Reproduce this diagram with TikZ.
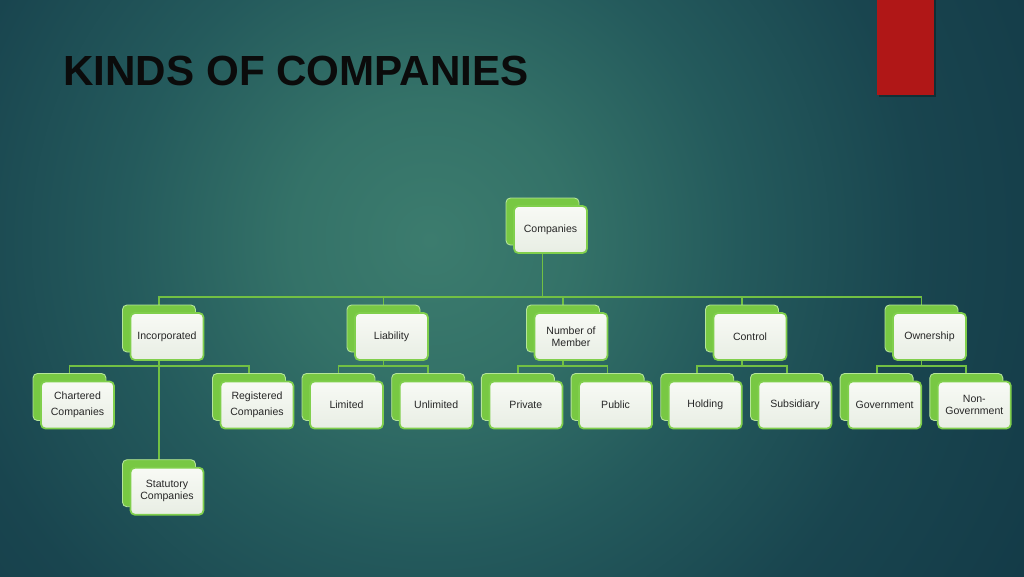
\documentclass[tikz,border=0pt]{standalone}
\usepackage{fontspec}
\setmainfont{Liberation Sans}
\usepackage{xcolor}
\usetikzlibrary{positioning, calc, shadows}

\definecolor{bgin}{HTML}{3C7C6E}
\definecolor{bgmid}{HTML}{347268}
\definecolor{bgdim}{HTML}{245A5C}
\definecolor{bgout}{HTML}{19454F}
\definecolor{bgedge}{HTML}{133A47}
\definecolor{boxgreen}{HTML}{80CF4C}
\definecolor{backgreen}{HTML}{78C843}
\definecolor{backline}{HTML}{B5E59A}
\definecolor{linkgreen}{HTML}{72C043}
\definecolor{boxtop}{HTML}{F8FAF5}
\definecolor{boxbot}{HTML}{E8EEE4}
\definecolor{redbar}{HTML}{B01717}
\definecolor{titleblack}{HTML}{0B0B0B}

\pgfdeclarelayer{backdrop}
\pgfdeclarelayer{links}
\pgfsetlayers{backdrop,links,main}
\pgfdeclareradialshading{slidebg}{\pgfpoint{0bp}{0bp}}{color(0bp)=(bgin); color(5bp)=(bgmid); color(11bp)=(bgdim); color(17.5bp)=(bgout); color(25bp)=(bgedge); color(50bp)=(bgedge)}

\begin{document}
\begin{tikzpicture}[
    x=0.02cm, y=-0.02cm,
    unit/.style={draw=boxgreen, line width=1pt, rounded corners=2.5pt, top color=boxtop, bottom color=boxbot,
        minimum width=1.46cm, minimum height=0.94cm, inner sep=1pt, align=center,
        font=\fontsize{6}{6.8}\selectfont, text=black!85,
        general shadow={shadow xshift=-0.16cm, shadow yshift=0.16cm, fill=backgreen, draw=backline, line width=0.5pt}},
    link/.style={draw=linkgreen, line width=1pt}
]
    \useasboundingbox (0,0) rectangle (1024,576);

    % slide background
    \begin{pgfonlayer}{backdrop}
        \begin{scope}
            \clip (0,0) rectangle (1024,576);
            \shade[shading=slidebg] (430,240) circle (14cm);
        \end{scope}
        \fill[black, opacity=0.3] (879,0) rectangle (936,97);
        \fill[redbar] (877,0) rectangle (934,95);
    \end{pgfonlayer}

    \node[anchor=base west, inner sep=0, font=\fontsize{24}{28}\selectfont\bfseries, text=titleblack] (title) at (63,85) {KINDS OF COMPANIES};

    % top
    \node[unit] (co) at (550.5,229.5) {Companies};

    % kinds
    \node[unit] (inc) at (167,336.5) {Incorporated};
    \node[unit] (lia) at (391.5,336.5) {Liability};
    \node[unit] (num) at (571,336.5) {Number of\\Member};
    \node[unit] (con) at (750,336.5) {Control};
    \node[unit] (own) at (929.5,336.5) {Ownership};

    % sub kinds
    \node[unit] (cha) at (77.5,405) {Chartered\\[2.5pt]Companies};
    \node[unit] (reg) at (257,405) {Registered\\[2.5pt]Companies};
    \node[unit] (lim) at (346.5,405) {Limited};
    \node[unit, right=0.299cm of lim] (unl) {Unlimited};
    \node[unit, right=0.299cm of unl] (pri) {Private};
    \node[unit, right=0.299cm of pri] (pub) {Public};
    \node[unit, right=0.299cm of pub] (hol) {Holding};
    \node[unit, right=0.299cm of hol] (sub) {Subsidiary};
    \node[unit, right=0.299cm of sub] (gov) {Government};
    \node[unit, right=0.299cm of gov] (non) {Non-\\Government};
    \node[unit, below=2.12cm of inc] (sta) {Statutory\\Companies};

    \begin{pgfonlayer}{links}
        \draw[link] ([xshift=-0.16cm]co.center) |- ([xshift=-0.16cm,yshift=0.3cm]inc.north) -- ([xshift=-0.16cm]inc.center);
        \draw[link] ([xshift=-0.16cm]co.center) |- ([xshift=-0.16cm,yshift=0.3cm]lia.north) -- ([xshift=-0.16cm]lia.center);
        \draw[link] ([xshift=-0.16cm]co.center) |- ([xshift=-0.16cm,yshift=0.3cm]num.north) -- ([xshift=-0.16cm]num.center);
        \draw[link] ([xshift=-0.16cm]co.center) |- ([xshift=-0.16cm,yshift=0.3cm]con.north) -- ([xshift=-0.16cm]con.center);
        \draw[link] ([xshift=-0.16cm]co.center) |- ([xshift=-0.16cm,yshift=0.3cm]own.north) -- ([xshift=-0.16cm]own.center);

        \draw[link] ([xshift=-0.16cm]inc.center) |- ([xshift=-0.16cm,yshift=0.3cm]cha.north) -- ([xshift=-0.16cm]cha.center);
        \draw[link] ([xshift=-0.16cm]inc.center) |- ([xshift=-0.16cm,yshift=0.3cm]reg.north) -- ([xshift=-0.16cm]reg.center);
        \draw[link] ([xshift=-0.16cm]inc.center) -- ([xshift=-0.16cm]sta.center);
        \draw[link] ([xshift=-0.16cm]lia.center) |- ([xshift=-0.16cm,yshift=0.3cm]lim.north) -- ([xshift=-0.16cm]lim.center);
        \draw[link] ([xshift=-0.16cm]lia.center) |- ([xshift=-0.16cm,yshift=0.3cm]unl.north) -- ([xshift=-0.16cm]unl.center);
        \draw[link] ([xshift=-0.16cm]num.center) |- ([xshift=-0.16cm,yshift=0.3cm]pri.north) -- ([xshift=-0.16cm]pri.center);
        \draw[link] ([xshift=-0.16cm]num.center) |- ([xshift=-0.16cm,yshift=0.3cm]pub.north) -- ([xshift=-0.16cm]pub.center);
        \draw[link] ([xshift=-0.16cm]con.center) |- ([xshift=-0.16cm,yshift=0.3cm]hol.north) -- ([xshift=-0.16cm]hol.center);
        \draw[link] ([xshift=-0.16cm]con.center) |- ([xshift=-0.16cm,yshift=0.3cm]sub.north) -- ([xshift=-0.16cm]sub.center);
        \draw[link] ([xshift=-0.16cm]own.center) |- ([xshift=-0.16cm,yshift=0.3cm]gov.north) -- ([xshift=-0.16cm]gov.center);
        \draw[link] ([xshift=-0.16cm]own.center) |- ([xshift=-0.16cm,yshift=0.3cm]non.north) -- ([xshift=-0.16cm]non.center);
    \end{pgfonlayer}
\end{tikzpicture}
\end{document}
